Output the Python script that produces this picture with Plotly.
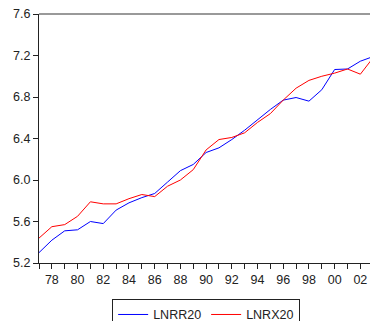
import plotly.graph_objects as go

years = list(range(1977, 2004))
lnrr20 = [5.30, 5.42, 5.51, 5.52, 5.60, 5.58, 5.71, 5.78, 5.83, 5.87, 5.98, 6.09, 6.15,
          6.265, 6.31, 6.39, 6.48, 6.58, 6.68, 6.77, 6.795, 6.76, 6.87, 7.065, 7.07, 7.145, 7.19]
lnrx20 = [5.44, 5.55, 5.57, 5.65, 5.79, 5.77, 5.77, 5.82, 5.86, 5.84, 5.94, 6.00, 6.10,
          6.29, 6.39, 6.41, 6.455, 6.555, 6.64, 6.77, 6.885, 6.96, 7.00, 7.03, 7.07, 7.02, 7.18]
tick_years = years
tick_labels = [str(y)[2:] if y % 2 == 0 else "" for y in years]
y_ticks = [5.2, 5.6, 6.0, 6.4, 6.8, 7.2, 7.6]

fig = go.Figure()
fig.add_trace(go.Scatter(x=years, y=lnrr20, mode="lines", name="LNRR20",
                         line=dict(color="#0000ff", width=1)))
fig.add_trace(go.Scatter(x=years, y=lnrx20, mode="lines", name="LNRX20",
                         line=dict(color="#ff0000", width=1)))

fig.update_layout(
    width=370, height=321,
    margin=dict(l=39, r=0, t=13.5, b=58, autoexpand=False),
    paper_bgcolor="white", plot_bgcolor="white",
    font=dict(family="Liberation Sans, Arial, sans-serif", size=12.5, color="#222"),
    showlegend=True,
    legend=dict(orientation="h", x=0.505, xanchor="center", y=-0.144, yanchor="top",
                bordercolor="#222", borderwidth=1, font=dict(size=12.5),
                itemwidth=30, tracegroupgap=0),
    xaxis=dict(range=[1977, 2002.75], tickmode="array", tickvals=tick_years,
               ticktext=tick_labels, ticks="outside", ticklen=5, tickcolor="#222",
               showline=True, linecolor="#222", linewidth=1, showgrid=False,
               zeroline=False, fixedrange=True, automargin=False,
               ticklabeloverflow="allow"),
    yaxis=dict(range=[5.2, 7.6], tickmode="array", tickvals=y_ticks,
               ticktext=[f"{v:.1f}" for v in y_ticks], ticks="outside", ticklen=5,
               tickcolor="#222", showline=True, linecolor="#222", linewidth=1,
               showgrid=False, zeroline=False, fixedrange=True, automargin=False,
               ticklabeloverflow="allow"),
    shapes=[dict(type="line", xref="paper", yref="paper", x0=0, x1=1, y0=1, y1=1,
                 line=dict(color="#777", width=1.5))],
)

fig.write_html("out.html",
               config={"displayModeBar": False, "staticPlot": True},
               post_script="document.body.style.margin='0';document.body.style.overflow='hidden';")
